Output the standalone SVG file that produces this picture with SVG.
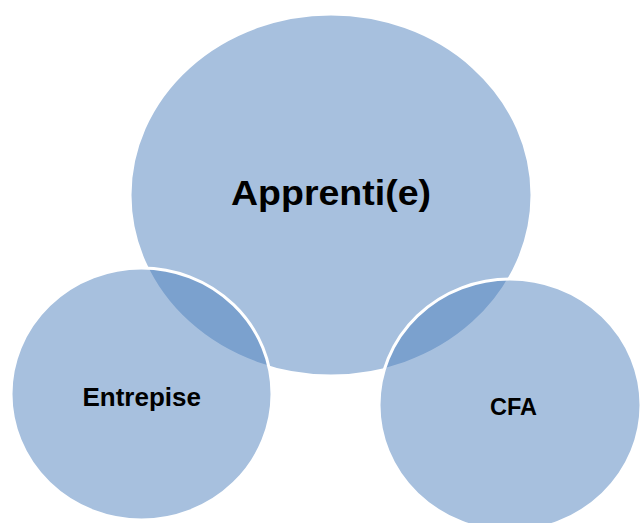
<svg xmlns="http://www.w3.org/2000/svg" width="641" height="523" viewBox="0 0 641 523">
<style>
.c{fill:#4F81BD;fill-opacity:0.5;stroke:#FFFFFF;stroke-width:3}
.t{font-family:"Liberation Sans",Arial,sans-serif;font-weight:bold;fill:#000000;text-anchor:middle}
</style>
<rect width="641" height="523" fill="#FFFFFF"/>
<g id="apprenti">
<ellipse class="c" cx="331" cy="195" rx="201" ry="181"/>
<text class="t" x="331" y="205" font-size="35" textLength="200" lengthAdjust="spacingAndGlyphs">Apprenti(e)</text>
</g>
<g id="entreprise">
<ellipse class="c" cx="141.5" cy="394" rx="130.5" ry="126"/>
<text class="t" x="141.7" y="405.5" font-size="26">Entrepise</text>
</g>
<g id="cfa">
<ellipse class="c" cx="510" cy="405" rx="131" ry="126"/>
<text class="t" x="513.5" y="415" font-size="23.5">CFA</text>
</g>
<g id="connectors"></g>
</svg>
